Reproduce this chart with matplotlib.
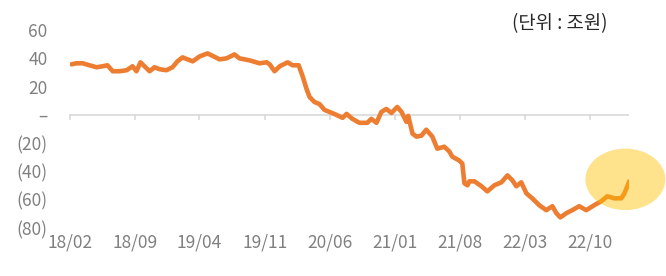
import matplotlib
matplotlib.use("Agg")
import matplotlib.pyplot as plt
import matplotlib.dates as mdates
from matplotlib.patches import Ellipse
import pandas as pd

plt.rcParams['font.family'] = ['Noto Sans CJK KR', 'DejaVu Sans']

dates = [
    "2018-02-06", "2018-02-23", "2018-03-15", "2018-04-06", "2018-04-29", "2018-05-19",
    "2018-06-04", "2018-06-21", "2018-07-14", "2018-08-06", "2018-08-25", "2018-09-07",
    "2018-09-20", "2018-10-03", "2018-10-20", "2018-11-05", "2018-11-22", "2018-12-14",
    "2019-01-03", "2019-01-19", "2019-02-05", "2019-02-21", "2019-03-10", "2019-04-02",
    "2019-04-28", "2019-06-06", "2019-06-29", "2019-07-25", "2019-08-10", "2019-09-12",
    "2019-10-15", "2019-11-07", "2019-11-17", "2019-12-03", "2019-12-20", "2020-01-15",
    "2020-01-31", "2020-02-20", "2020-03-04", "2020-03-17", "2020-03-27", "2020-04-12",
    "2020-04-28", "2020-05-15", "2020-05-31", "2020-06-23", "2020-07-13", "2020-07-26",
    "2020-08-14", "2020-09-06", "2020-10-02", "2020-10-15", "2020-11-01", "2020-11-17",
    "2020-12-03", "2020-12-20", "2021-01-08", "2021-01-22", "2021-02-07", "2021-02-13",
    "2021-02-27", "2021-03-12", "2021-03-28", "2021-04-13", "2021-05-03", "2021-05-19",
    "2021-06-11", "2021-06-28", "2021-07-07", "2021-07-30", "2021-08-09", "2021-08-16",
    "2021-08-26", "2021-09-01", "2021-09-18", "2021-10-11", "2021-10-30", "2021-11-22",
    "2021-12-15", "2022-01-04", "2022-01-20", "2022-02-02", "2022-02-18", "2022-03-07",
    "2022-03-26", "2022-04-18", "2022-05-11", "2022-05-31", "2022-06-13", "2022-06-26",
    "2022-07-16", "2022-08-04", "2022-08-27", "2022-09-19", "2022-10-15", "2022-11-07",
    "2022-11-27", "2022-12-20", "2023-01-12", "2023-01-22", "2023-02-07",
]
values = [
    35.8, 36.5, 36.5, 35.1, 33.7, 34.4,
    35.1, 30.9, 30.9, 31.6, 34.4, 30.9,
    37.2, 34.4, 30.9, 33.7, 32.3, 31.6,
    33.7, 37.9, 40.7, 39.3, 37.9, 41.4,
    43.5, 39.3, 40.0, 42.8, 40.0, 38.6,
    36.5, 37.2, 35.8, 30.9, 34.4, 37.2,
    35.1, 35.1, 27.4, 18.3, 12.6, 9.1,
    7.7, 3.5, 2.1, 0.0, -2.1, 0.7,
    -2.8, -5.6, -5.6, -2.8, -5.6, 2.1,
    4.2, 1.4, 5.6, 2.1, -4.9, -0.7,
    -13.3, -15.4, -14.7, -10.5, -15.4, -23.9,
    -22.5, -26.0, -29.5, -32.3, -34.4, -48.4,
    -49.8, -47.0, -47.0, -50.5, -54.1, -49.8,
    -47.7, -42.8, -46.3, -50.5, -47.7, -55.5,
    -59.0, -63.9, -67.4, -64.6, -69.5, -72.5,
    -69.5, -67.4, -64.6, -67.4, -63.9, -61.1,
    -57.6, -59.0, -59.0, -55.5, -47.0,
]
tick_dates = ["2018-02-01", "2018-09-01", "2019-04-01", "2019-11-01", "2020-06-01",
              "2021-01-01", "2021-08-01", "2022-03-01", "2022-10-01"]
tick_labels = ["18/02", "18/09", "19/04", "19/11", "20/06", "21/01", "21/08", "22/03", "22/10"]
y_ticks = [60, 40, 20, 0, -20, -40, -60, -80]
y_labels = ["60", "40", "20", "–", "(20)", "(40)", "(60)", "(80)"]
unit_text = "(단위 : 조원)"

x = pd.to_datetime(dates)
xt = pd.to_datetime(tick_dates)

fig = plt.figure(figsize=(6.66, 2.76), dpi=100)
ax = fig.add_axes([0.105, 0.174, 0.839, 0.717])

ax.plot(x, values, color="#ED7D31", lw=3.3, solid_joinstyle="round", solid_capstyle="round", zorder=3)

ax.set_xlim(pd.Timestamp("2018-02-01"), pd.Timestamp("2023-02-05"))
ax.set_ylim(-80, 60)

ax.axhline(0, color="#D9D9D9", lw=1.2, zorder=1)
for t in xt:
    ax.plot([t, t], [0, -3], color="#D9D9D9", lw=1.2, zorder=1, clip_on=False)

for s in ax.spines.values():
    s.set_visible(False)

ax.set_xticks(xt)
ax.set_xticklabels(tick_labels)
ax.set_yticks(y_ticks)
ax.set_yticklabels(y_labels)
ax.tick_params(axis="both", length=0, labelsize=12.5, colors="#808080")
ax.tick_params(axis="x", pad=4)
ax.tick_params(axis="y", pad=16)
for lab in ax.get_xticklabels() + ax.get_yticklabels():
    lab.set_fontweight("light")

# highlight ellipse
cx = mdates.date2num(pd.Timestamp("2023-01-25"))
ell = Ellipse((cx, -45.6), width=262, height=43.5, facecolor="#FFC000", alpha=0.45,
              edgecolor="none", zorder=4, clip_on=False)
ax.add_patch(ell)

fig.text(0.912, 0.915, unit_text, ha="right", va="center", fontsize=13.5, color="#262626")

fig.savefig("out.png", dpi=100)
